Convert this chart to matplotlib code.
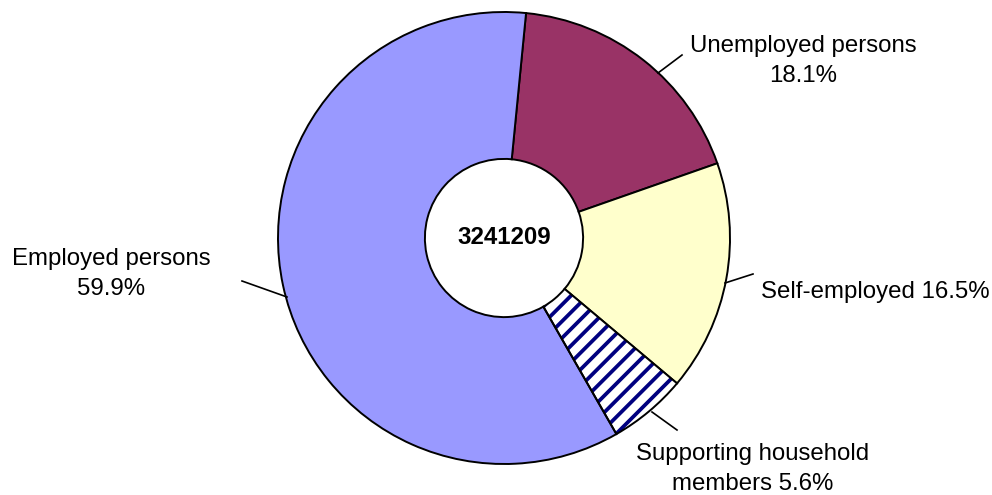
import matplotlib.pyplot as plt
import matplotlib.patches as mpatches
import numpy as np

plt.rcParams['font.family'] = ['Liberation Sans', 'DejaVu Sans']

categories = ['Unemployed persons', 'Self-employed', 'Supporting household members', 'Employed persons']
shares = [18.1, 16.5, 5.6, 59.9]
total = 3241209
label_texts = ['Unemployed persons\n18.1%', 'Self-employed 16.5%',
               'Supporting household\nmembers 5.6%', 'Employed persons\n59.9%']
colors = ['#993366', '#FFFFCC', 'white', '#9999FF']
hatches = [None, None, '//', None]

# pie centre / radius in pixels (top-left origin)
CX, CY, R = 504, 238, 226
W, H = 992, 495


def px(x, y):
    return ((x - CX) / R, (CY - y) / R)


fig = plt.figure(figsize=(9.92, 4.95), dpi=100)
ax = fig.add_axes([0, 0, 1, 1])

plt.rcParams['hatch.linewidth'] = 2.7

wedges, _ = ax.pie(shares, colors=colors, startangle=84.4, counterclock=False,
                   radius=1.0, wedgeprops=dict(width=0.65, edgecolor='black', linewidth=1.4))
for w, h in zip(wedges, hatches):
    if h:
        # hatch in navy, then redraw the black outline on top
        w.set_edgecolor('#000080')
        w.set_linewidth(0)
        w.set_hatch(h)
        outline = mpatches.Wedge(w.center, w.r, w.theta1, w.theta2, width=w.width,
                                 fill=False, edgecolor='black', linewidth=1.4)
        ax.add_patch(outline)

ax.set_aspect('auto')
ax.set_xlim(-CX / R, (W - CX) / R)
ax.set_ylim(-(H - CY) / R, CY / R)
ax.axis('off')

ax.text(0, 0, str(total), ha='center', va='center', fontsize=17.3, fontweight='bold')

# label layout: (leader start, leader end, text centre) in pixels
layout = [
    ((658, 73), (682, 55), (803, 61)),
    ((725, 283), (753, 274), (875, 292)),
    ((652, 412), (677, 430), (753, 469)),
    ((287, 297), (242, 281), (111, 274)),
]
for txt, (p0, p1, pt) in zip(label_texts, layout):
    ax.plot(*zip(px(*p0), px(*p1)), color='black', lw=1.2)
    ax.text(*px(*pt), txt, ha='center', va='center', fontsize=17.3, linespacing=1.42)

fig.savefig('out.png', dpi=100)
